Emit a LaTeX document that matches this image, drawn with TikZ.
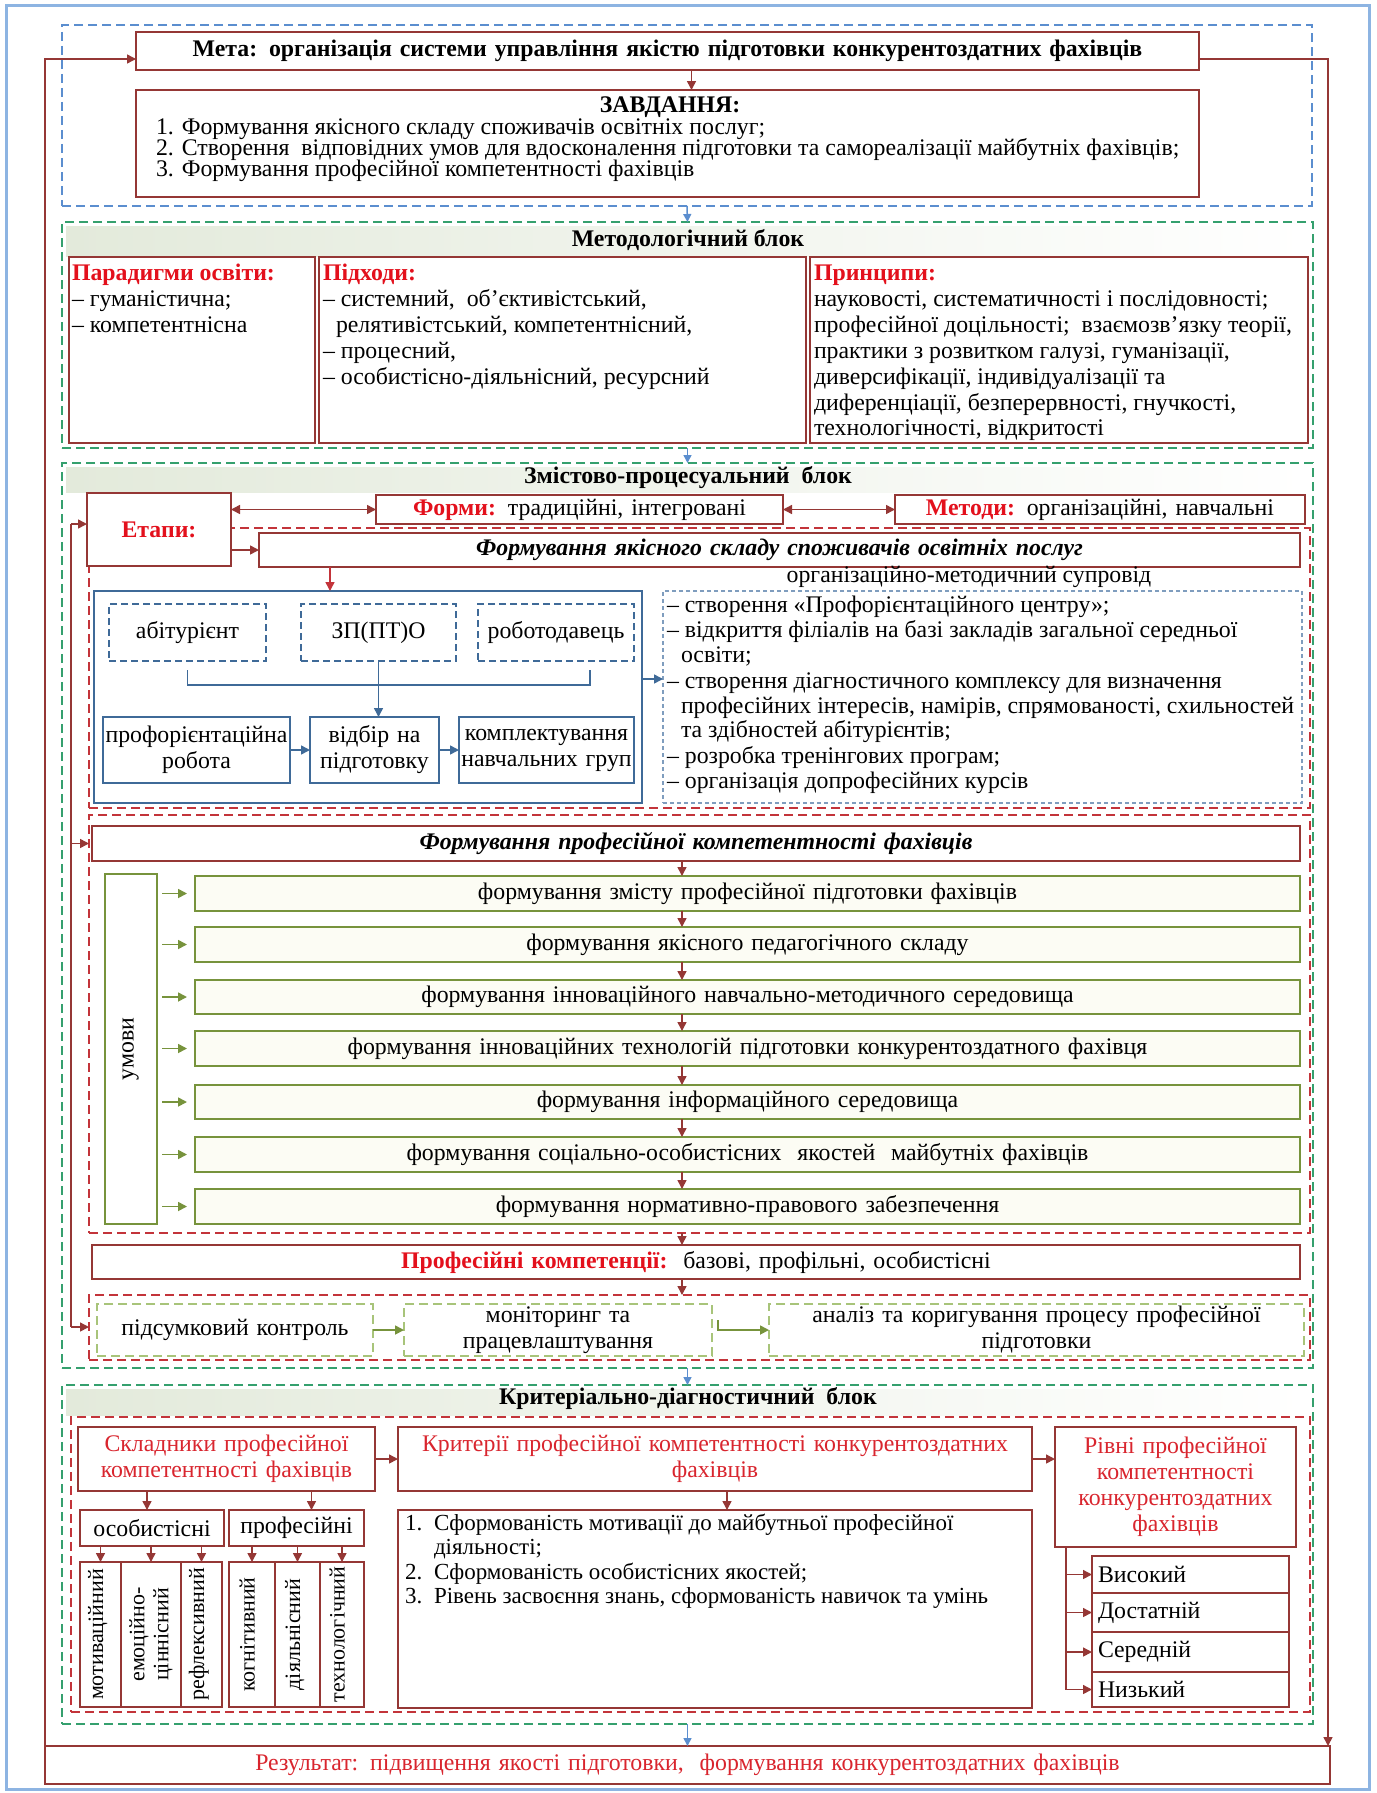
\documentclass[tikz,border=0pt]{standalone}
\usepackage{fontspec}
\setmainfont{Liberation Serif}
\usetikzlibrary{arrows.meta,calc}
\definecolor{dred}{HTML}{953735}
\definecolor{lred}{HTML}{E3101C}
\definecolor{sred}{HTML}{D9252E}
\definecolor{olive}{HTML}{77933C}
\definecolor{cream}{HTML}{FCFCF4}
\definecolor{tgreen}{HTML}{35A06E}
\definecolor{rdashc}{HTML}{C3343A}
\definecolor{dblue}{HTML}{5B8ECF}
\definecolor{sblue}{HTML}{3F6A98}
\definecolor{lblue}{HTML}{7F9DBE}
\definecolor{lgreen}{HTML}{A8C47A}
\definecolor{frameblue}{HTML}{8DB4E2}
\definecolor{band}{HTML}{E3EADB}
\tikzset{
 bx/.style={inner sep=0pt, outer sep=0pt},
 redbox/.style={bx, draw=dred, line width=1.7pt, fill=white},
 greenbox/.style={bx, draw=olive, line width=1.7pt, fill=cream},
 umbox/.style={bx, draw=olive, line width=1.7pt, fill=white},
 bluebox/.style={bx, draw=sblue, line width=1.7pt, fill=white},
 bluedbox/.style={bx, draw=sblue, line width=1.5pt, dash pattern=on 7pt off 4pt},
 listbox/.style={bx, draw=lblue, line width=1.1pt, dash pattern=on 4pt off 3pt},
 gdash/.style={bx, draw=tgreen, line width=1.7pt, dash pattern=on 9pt off 5pt},
 rdash/.style={bx, draw=rdashc, line width=2pt, dash pattern=on 9pt off 5pt},
 bdash/.style={bx, draw=dblue, line width=1.5pt, dash pattern=on 9pt off 5pt},
 lgdash/.style={bx, draw=lgreen, line width=1.5pt, dash pattern=on 9pt off 5pt},
 txt/.style={inner sep=0pt, outer sep=0pt, text height=0.72em, text depth=0.22em},
 tighttxt/.style={inner sep=0pt, outer sep=0pt, text height=0.66em, text depth=0.2em},
 celltxt/.style={txt, rotate=90, font=\fontsize{22}{24}\selectfont},
 arrtip/.style={-{Triangle[length=9pt,width=9pt]}},
 rline/.style={draw=dred, line width=1.5pt},
 rarr/.style={rline, arrtip},
 rarrb/.style={rline, {Triangle[length=9pt,width=9pt]}-{Triangle[length=9pt,width=9pt]}},
 barr/.style={draw=sblue, line width=1.5pt, arrtip},
 bline/.style={draw=sblue, line width=1.5pt},
 darr/.style={draw=dblue, line width=1.5pt, -{Triangle[length=8pt,width=8pt]}},
 garr/.style={draw=olive, line width=1.7pt, -{Triangle[length=9pt,width=9pt]}},
}
\newcommand{\mkbox}[7]{%
 \pgfmathsetmacro{\mkW}{#4-#2}\pgfmathsetmacro{\mkH}{#5-#3}%
 \pgfmathsetmacro{\mkX}{(#2+#4)/2}\pgfmathsetmacro{\mkY}{(#3+#5)/2}%
 \pgfmathsetmacro{\mkT}{#4-#2-12}%
 \node[minimum width=\mkW pt, minimum height=\mkH pt, text width=\mkT pt, align=center, #6] (#1) at (\mkX,\mkY) {#7};}
\newcommand{\txl}[4]{\node[txt,anchor=west] (#1) at (#2,#3) {#4};}
\newcommand{\ttxl}[4]{\node[tighttxt,anchor=west] (#1) at (#2,#3) {#4};}
\begin{document}
\begin{tikzpicture}[x=1pt,y=-1pt,font=\fontsize{23.8}{26}\selectfont]
\useasboundingbox (0,0) rectangle (1376,1793);
\fill[white] (0,0) rectangle (1376,1793);
\mkbox{frame}{6}{6}{1369}{1789}{bx,draw=frameblue,line width=3pt}{}
% ---------- block 1
\mkbox{blk1}{62}{25}{1312}{206}{bdash}{}
\mkbox{meta}{136}{32}{1199}{70}{redbox}{\bfseries Мета: організація системи управління якістю підготовки конкурентоздатних фахівців}
\mkbox{zavd}{136}{90}{1199}{197}{redbox}{}
\node[tighttxt] (zt) at (670,110) {\bfseries ЗАВДАННЯ:};
\ttxl{z1}{156}{132}{1. Формування якісного складу споживачів освітніх послуг;}
\ttxl{z2}{156}{153}{2. Створення\ \ відповідних умов для вдосконалення підготовки та самореалізації майбутніх фахівців;}
\ttxl{z3}{156}{174}{3. Формування професійної компетентності фахівців}
\draw[rarr] ([xshift=24pt]meta.south) -- ([xshift=24pt]zavd.north);
% ---------- block 2
\mkbox{blk2}{62}{222}{1313}{448}{gdash}{}
\shade[left color=band,right color=white] (66,226) rectangle (1309,256);
\node[txt] (t2) at (688,244) {\bfseries Методологічний блок};
\mkbox{par}{69}{257}{315}{443}{redbox}{}
\mkbox{pid}{319}{257}{806}{443}{redbox}{}
\mkbox{prin}{810}{257}{1308}{443}{redbox}{}
\txl{par0}{72}{278}{\textcolor{lred}{\bfseries Парадигми освіти:}}
\txl{par1}{72}{304}{– гуманістична;}
\txl{par2}{72}{330}{– компетентнісна}
\txl{pid0}{323}{278}{\textcolor{lred}{\bfseries Підходи:}}
\txl{pid1}{323}{304}{– системний,\ \ об’єктивістський,}
\txl{pid2}{336}{330}{релятивістський, компетентнісний,}
\txl{pid3}{323}{356}{– процесний,}
\txl{pid4}{323}{382}{– особистісно-діяльнісний, ресурсний}
\txl{prin0}{814}{278}{\textcolor{lred}{\bfseries Принципи:}}
\txl{prin1}{814}{304}{науковості, систематичності і послідовності;}
\txl{prin2}{814}{330}{професійної доцільності;\ \ взаємозв’язку теорії,}
\txl{prin3}{814}{356}{практики з розвитком галузі, гуманізації,}
\txl{prin4}{814}{382}{диверсифікації, індивідуалізації та}
\txl{prin5}{814}{408}{диференціації, безперервності, гнучкості,}
\txl{prin6}{814}{433}{технологічності, відкритості}
\draw[darr] (blk1.south) -- (blk2.north);
% ---------- block 3
\mkbox{blk3}{62}{463}{1313}{1368}{gdash}{}
\shade[left color=band,right color=white] (66,467) rectangle (1309,492);
\node[txt] (t3) at (688,481) {\bfseries Змістово-процесуальний\ \ блок};
\draw[darr] (blk2.south) -- (blk3.north);
\mkbox{st1f}{89}{528}{1310}{808}{rdash}{}
\mkbox{st2f}{89}{815}{1310}{1233}{rdash}{}
\mkbox{st3f}{89}{1295}{1310}{1360}{rdash}{}
\mkbox{etapy}{87}{493}{231}{566}{redbox}{\textcolor{lred}{\bfseries Етапи:}}
\mkbox{formy}{376}{495}{783}{524}{redbox}{\textcolor{lred}{\bfseries Форми:} традиційні, інтегровані}
\mkbox{metody}{895}{495}{1305}{524}{redbox}{\textcolor{lred}{\bfseries Методи:} організаційні, навчальні}
\draw[rarrb] (etapy.east |- formy.west) -- (formy.west);
\draw[rarrb] (formy.east) -- (metody.west);
\mkbox{st1}{259}{533}{1300}{567}{redbox}{\bfseries\itshape Формування якісного складу споживачів освітніх послуг}
\draw[rarr] (etapy.east |- st1.west) -- (st1.west);
\mkbox{bl}{94}{591}{642}{803}{bluebox}{}
\mkbox{lst}{663}{591}{1302}{803}{listbox}{}
\node[tighttxt] (oms) at (969,580) {організаційно-методичний супровід};
\coordinate (c1) at ([xshift=-38pt]bl.north);
\draw[rarr,draw=rdashc] (st1.south -| c1) -- (c1);
\mkbox{ab}{109}{604}{266}{661}{bluedbox}{абітурієнт}
\mkbox{zp}{301}{604}{456}{661}{bluedbox}{ЗП(ПТ)О}
\mkbox{rob}{478}{604}{634}{661}{bluedbox,text width=152pt}{роботодавець}
\coordinate (rbr) at ([xshift=34pt,yshift=-9pt]rob.south);
\draw[bline] ([yshift=-9pt]ab.south) |- ([yshift=-15pt]rbr) -- (rbr);
\mkbox{prof}{103}{717}{290}{783}{bluebox,text width=187pt}{профорієнтаційна\\робота}
\mkbox{otb}{310}{717}{439}{783}{bluebox,text width=125pt}{відбір на\\підготовку}
\mkbox{kompl}{459}{717}{634}{783}{bluebox,text width=175pt}{комплектування\\навчальних груп}
\draw[barr] (zp.south) -- (zp.south |- otb.north);
\draw[barr] (prof.east) -- (otb.west);
\draw[barr] (otb.east) -- (kompl.west);
\draw[barr] ([yshift=18pt]bl.east) -- ([yshift=18pt]bl.east -| lst.west);
\txl{l1}{667}{610}{– створення «Профорієнтаційного центру»;}
\txl{l2}{667}{635}{– відкриття філіалів на базі закладів загальної середньої}
\txl{l3}{681}{660}{освіти;}
\txl{l4}{667}{686}{– створення діагностичного комплексу для визначення}
\txl{l5}{681}{711}{професійних інтересів, намірів, спрямованості, схильностей}
\txl{l6}{681}{735}{та здібностей абітурієнтів;}
\txl{l7}{667}{761}{– розробка тренінгових програм;}
\txl{l8}{667}{786}{– організація допрофесійних курсів}
% stage 2
\mkbox{st2}{92}{826}{1300}{861}{redbox}{\bfseries\itshape Формування професійної компетентності фахівців}
\mkbox{umovy}{105}{874}{157}{1224}{umbox}{}
\node[txt,rotate=90] (umt) at (umovy.center) {умови};
\mkbox{g1}{195}{876}{1300}{911}{greenbox}{формування змісту професійної підготовки фахівців}
\mkbox{g2}{195}{927}{1300}{962}{greenbox}{формування якісного педагогічного складу}
\mkbox{g3}{195}{980}{1300}{1014}{greenbox}{формування інноваційного навчально-методичного середовища}
\mkbox{g4}{195}{1031}{1300}{1066}{greenbox}{формування інноваційних технологій підготовки конкурентоздатного фахівця}
\mkbox{g5}{195}{1085}{1300}{1119}{greenbox}{формування інформаційного середовища}
\mkbox{g6}{195}{1137}{1300}{1172}{greenbox}{формування соціально-особистісних\ \ якостей\ \ майбутніх фахівців}
\mkbox{g7}{195}{1189}{1300}{1224}{greenbox}{формування нормативно-правового забезпечення}
\coordinate (ax) at (682,0);
\draw[rarr] (st2.south -| ax) -- (g1.north -| ax);
\foreach \a/\b in {g1/g2,g2/g3,g3/g4,g4/g5,g5/g6,g6/g7}
  \draw[rarr] (\a.south -| ax) -- (\b.north -| ax);
\foreach \g in {g1,g2,g3,g4,g5,g6,g7}
  \draw[garr, shorten <=5pt, shorten >=8pt] (umovy.east |- \g.west) -- (\g.west);
\mkbox{pk}{92}{1245}{1300}{1279}{redbox}{\textcolor{lred}{\bfseries Професійні компетенції:}\ \ базові, профільні, особистісні}
\draw[rarr] (st2f.south -| ax) -- (pk.north -| ax);
\draw[rarr] (pk.south -| ax) -- (st3f.north -| ax);
% stage 3
\mkbox{ps}{97}{1304}{373}{1356}{lgdash}{підсумковий контроль}
\mkbox{mon}{404}{1304}{712}{1356}{lgdash}{моніторинг та\\працевлаштування}
\mkbox{an}{769}{1304}{1304}{1356}{lgdash}{аналіз та коригування процесу професійної\\підготовки}
\draw[garr] (ps.east) -- (mon.west);
\draw[garr] ([xshift=6pt,yshift=10pt]mon.east) |- (an.west);
% left bus
\coordinate (busT) at (71,524);
\coordinate (busB) at (71,1327);
\draw[rline] (busT) -- (busB);
\draw[rarr] (busT) -- (busT -| etapy.west);
\draw[rarr] (busT |- st2.west) -- (st2f.west |- st2.west);
\draw[rarr] (busB) -- (busB -| st3f.west);
% ---------- block 4
\mkbox{blk4}{62}{1385}{1313}{1724}{gdash}{}
\draw[darr] (blk3.south) -- (blk4.north);
\shade[left color=band,right color=white] (66,1389) rectangle (1309,1415);
\node[txt] (t4) at (688,1402) {\bfseries Критеріально-діагностичний\ \ блок};
\mkbox{st4f}{71}{1417}{1310}{1712}{rdash}{}
\mkbox{skl}{78}{1427}{375}{1491}{redbox,text=sred,text width=295pt}{Складники професійної\\компетентності фахівців}
\mkbox{krit}{398}{1427}{1032}{1491}{redbox,text=sred}{Критерії професійної компетентності конкурентоздатних\\фахівців}
\mkbox{rivni}{1055}{1427}{1296}{1547}{redbox,text=sred}{Рівні професійної\\компетентності\\конкурентоздатних\\фахівців}
\draw[rarr] (skl.east) -- (krit.west);
\draw[rarr] (krit.east) -- (rivni.west |- krit.east);
\mkbox{osob}{80}{1510}{224}{1546}{redbox}{особистісні}
\mkbox{profi}{229}{1510}{364}{1546}{redbox}{професійні}
\draw[rarr] ([xshift=-5pt]osob.north |- skl.south) -- ([xshift=-5pt]osob.north);
\draw[rarr] ([xshift=15pt]profi.north |- skl.south) -- ([xshift=15pt]profi.north);
\mkbox{c1}{80}{1562}{121}{1707}{redbox}{}
\mkbox{c2}{121}{1562}{181}{1707}{redbox}{}
\mkbox{c3}{181}{1562}{222}{1707}{redbox}{}
\mkbox{c4}{229}{1562}{275}{1707}{redbox}{}
\mkbox{c5}{275}{1562}{320}{1707}{redbox}{}
\mkbox{c6}{320}{1562}{364}{1707}{redbox}{}
\node[celltxt] (c1t) at (c1.center) {мотиваційний};
\node[rotate=90,align=center,inner sep=0pt,font=\fontsize{22}{24}\selectfont] (c2t) at (c2.center) {емоційно-\\ціннісний};
\node[celltxt] (c3t) at (c3.center) {рефлексивний};
\node[celltxt] (c4t) at (c4.center) {когнітивний};
\node[celltxt] (c5t) at (c5.center) {діяльнісний};
\node[celltxt] (c6t) at (c6.center) {технологічний};
\foreach \c in {c1,c2,c3} \draw[rarr] (\c.north |- osob.south) -- (\c.north);
\foreach \c in {c4,c5,c6} \draw[rarr] (\c.north |- profi.south) -- (\c.north);
\mkbox{krl}{398}{1510}{1032}{1708}{redbox}{}
\draw[rarr] ([xshift=12pt]krit.south) -- ([xshift=12pt]krit.south |- krl.north);
\begin{scope}[font=\fontsize{23}{26}\selectfont]
\txl{k1n}{405}{1528}{1.}
\txl{k1}{434}{1528}{Сформованість мотивації до майбутньої професійної}
\txl{k1b}{434}{1552}{діяльності;}
\txl{k2n}{405}{1577}{2.}
\txl{k2}{434}{1577}{Сформованість особистісних якостей;}
\txl{k3n}{405}{1601}{3.}
\txl{k3}{434}{1601}{Рівень засвоєння знань, сформованість навичок та умінь}
\end{scope}
\mkbox{lv1}{1092}{1556}{1289}{1593}{redbox,align=left}{Високий}
\mkbox{lv2}{1092}{1593}{1289}{1632}{redbox,align=left}{Достатній}
\mkbox{lv3}{1092}{1632}{1289}{1672}{redbox,align=left}{Середній}
\mkbox{lv4}{1092}{1672}{1289}{1707}{redbox,align=left}{Низький}
\coordinate (rbt) at ([xshift=11pt]rivni.south west);
\draw[rline] (rbt) -- (rbt |- lv4.west);
\foreach \l in {lv1,lv2,lv3,lv4} \draw[rarr] (rbt |- \l.west) -- (\l.west);
% ---------- result
\mkbox{res}{45}{1746}{1330}{1784}{redbox,text=sred}{Результат: підвищення якості підготовки,\ \ формування конкурентоздатних фахівців}
\draw[darr] (blk4.south) -- (res.north);
\draw[rarr] ([yshift=-8pt]meta.east) -| ([xshift=-2pt]res.north east);
\draw[rarr] (res.north west) |- ([yshift=-8pt]meta.west);
\end{tikzpicture}
\end{document}
